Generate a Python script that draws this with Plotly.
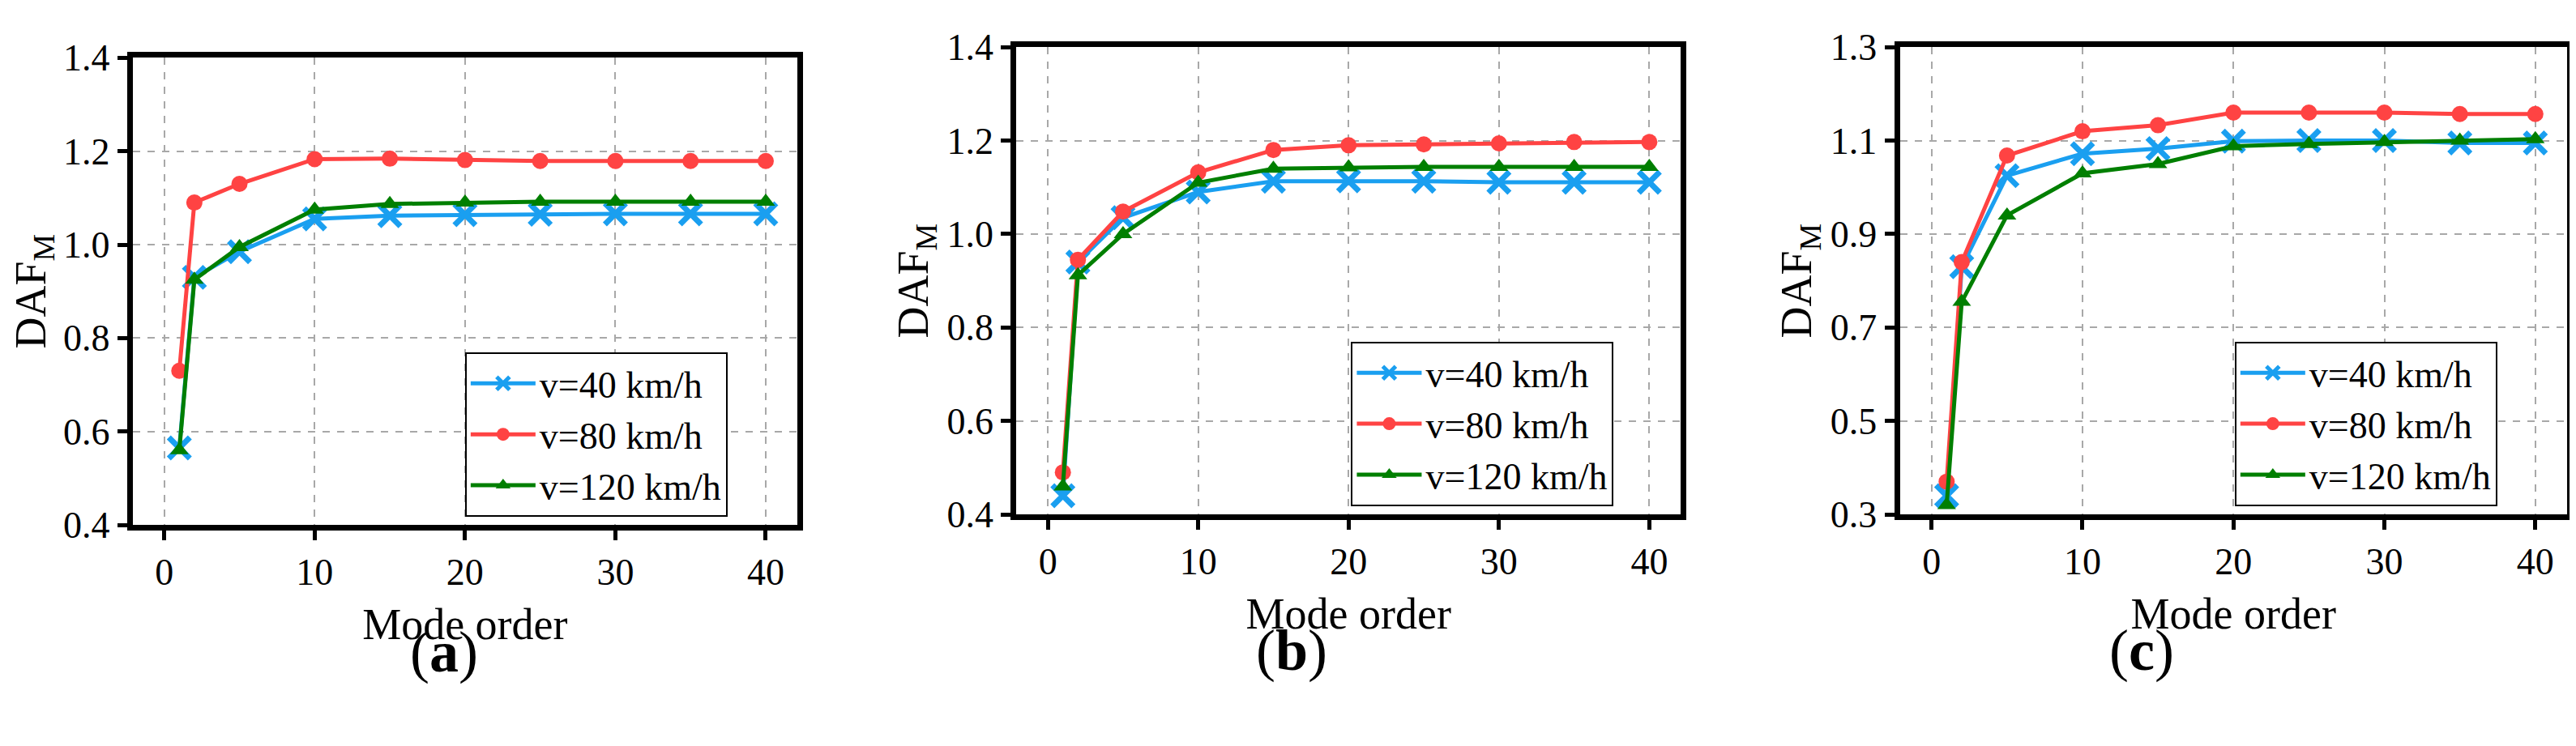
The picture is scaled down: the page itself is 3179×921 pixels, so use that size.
import plotly.graph_objects as go

# Mode orders on x axis (same for all panels)
modes = [1, 2, 5, 10, 15, 20, 25, 30, 35, 40]

# Panel (a)
a_v40 = [0.565, 0.93, 0.985, 1.055, 1.062, 1.064, 1.065, 1.066, 1.066, 1.066]
a_v80 = [0.73, 1.09, 1.13, 1.183, 1.184, 1.181, 1.179, 1.179, 1.179, 1.179]
a_v120 = [0.56, 0.925, 0.995, 1.075, 1.087, 1.09, 1.092, 1.092, 1.092, 1.092]

# Panel (b)
b_v40 = [0.44, 0.94, 1.035, 1.09, 1.113, 1.114, 1.113, 1.111, 1.111, 1.111]
b_v80 = [0.49, 0.945, 1.048, 1.132, 1.18, 1.19, 1.192, 1.194, 1.197, 1.197]
b_v120 = [0.46, 0.912, 1.0, 1.11, 1.14, 1.143, 1.144, 1.144, 1.144, 1.144]

# Panel (c)
c_v40 = [0.34, 0.83, 1.025, 1.072, 1.083, 1.099, 1.1, 1.1, 1.095, 1.095]
c_v80 = [0.37, 0.84, 1.068, 1.12, 1.133, 1.16, 1.16, 1.16, 1.157, 1.157]
c_v120 = [0.32, 0.755, 0.94, 1.03, 1.05, 1.088, 1.093, 1.097, 1.1, 1.103]

names = ["v=40 km/h", "v=80 km/h", "v=120 km/h"]
colors = ["#1a9ff0", "#ff4343", "#007f00"]
symbols = ["x-thin-open", "circle", "triangle-up"]

panels = [
    ("a", [a_v40, a_v80, a_v120], [0.4, 1.4], 0.4),
    ("b", [b_v40, b_v80, b_v120], [0.4, 1.4], 0.4),
    ("c", [c_v40, c_v80, c_v120], [0.3, 1.3], 0.3),
]
xdomains = [[0.049, 0.307], [0.392, 0.650], [0.735, 0.994]]
ydomains = [[0.293, 0.956], [0.308, 0.971], [0.308, 0.971]]
legpos = [(0.178, 0.538), (0.522, 0.553), (0.865, 0.553)]
labelx = [0.156, 0.499, 0.842]
labely = [0.064, 0.067, 0.067]

FONT = "Liberation Serif"
fig = go.Figure()
layout = {}
annotations = []

for i, (lab, series, yr, t0) in enumerate(panels):
    sfx = "" if i == 0 else str(i + 1)
    leg = "legend" + sfx
    for name, vals, col, sym in zip(names, series, colors, symbols):
        if sym == "x-thin-open":
            marker = dict(symbol="x-thin-open", size=26, line=dict(width=7, color=col), color=col)
        else:
            marker = dict(symbol=sym, size=20, color=col)
        fig.add_trace(go.Scatter(
            x=modes, y=vals, name=name, mode="lines+markers",
            line=dict(color=col, width=5), marker=marker,
            xaxis="x" + sfx, yaxis="y" + sfx, legend=leg,
        ))
    axis_common = dict(showline=True, linecolor="black", linewidth=7, mirror=True,
                       showgrid=True, gridcolor="#a8a8a8", griddash="dash", gridwidth=1.5,
                       ticks="outside", ticklen=12, tickwidth=5, tickcolor="black",
                       tickfont=dict(family=FONT, size=46, color="black"), zeroline=False)
    layout["xaxis" + sfx] = dict(axis_common, domain=xdomains[i], range=[-2.1, 42.1],
                                 tickvals=[0, 10, 20, 30, 40], anchor="y" + sfx,
                                 title=dict(text="Mode order", standoff=22,
                                            font=dict(family=FONT, size=54, color="black")))
    layout["yaxis" + sfx] = dict(axis_common, domain=ydomains[i], range=yr, dtick=0.2,
                                 tick0=t0, tickformat=".1f", anchor="x" + sfx,
                                 title=dict(text="DAF<sub>M</sub>", standoff=8,
                                            font=dict(family=FONT, size=54, color="black")))
    layout[leg] = dict(x=legpos[i][0], y=legpos[i][1], xanchor="left", yanchor="top",
                       bgcolor="white", bordercolor="black", borderwidth=2, tracegroupgap=0,
                       font=dict(family=FONT, size=46, color="black"), itemwidth=80)
    annotations.append(dict(text="(<b>%s</b>)" % lab, x=labelx[i], y=labely[i], xref="paper",
                            yref="paper", showarrow=False,
                            font=dict(family=FONT, size=72, color="black")))

fig.update_layout(**layout)
fig.update_layout(width=3179, height=921, plot_bgcolor="white", paper_bgcolor="white",
                  margin=dict(l=0, r=0, t=0, b=0), annotations=annotations)
fig.write_html("out.html")
